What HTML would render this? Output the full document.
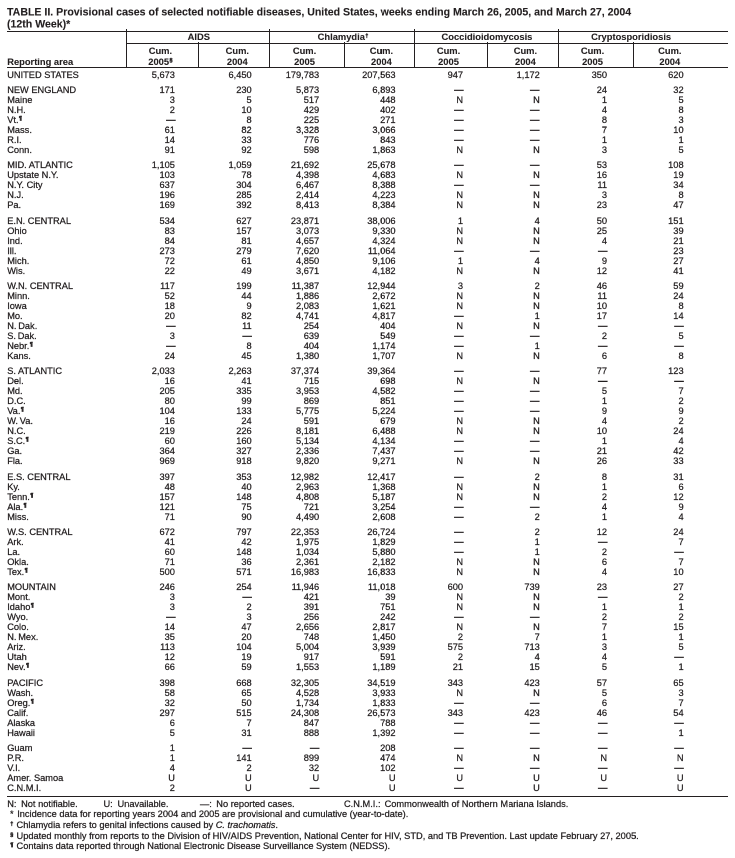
<!DOCTYPE html>
<html><head><meta charset="utf-8"><title>TABLE II</title>
<style>
html,body{margin:0;padding:0;background:#fff;}
body{width:735px;height:858px;position:relative;overflow:hidden;}
#w{position:absolute;left:0;top:0;width:1470px;height:1716px;transform:scale(0.5);transform-origin:0 0;will-change:transform;
 color:#231f20;-webkit-text-stroke:0.5px #231f20;
 font-family:"Liberation Sans",sans-serif;font-size:18.52px;line-height:20px;}
.t{position:absolute;white-space:pre;}
.r{text-align:right;}
.c{text-align:center;}
.b{font-weight:bold;font-size:18.7px;-webkit-text-stroke:0.2px #231f20;}
.title{font-size:21.16px;font-weight:bold;line-height:24px;-webkit-text-stroke:0.2px #231f20;}
.hl{position:absolute;background:#231f20;height:2px;}
.vl{position:absolute;background:#231f20;width:2px;}
.sup{font-size:11px;font-weight:bold;position:relative;top:-6px;line-height:0;-webkit-text-stroke:0.9px #231f20;margin-left:0.8px;}
.d{-webkit-text-stroke:0.9px #231f20;}
.dag{font-size:10.4px;top:-5.2px;}
.fsup{font-size:11px;font-weight:bold;position:relative;top:-5px;line-height:0;-webkit-text-stroke:0.9px #231f20;}
i{font-style:italic;}
</style></head><body><div id="w">

<div class="t title" style="left:14px;top:12px">TABLE II. Provisional cases of selected notifiable diseases, United States, weeks ending March 26, 2005, and March 27, 2004</div>
<div class="t title" style="left:14px;top:36px">(12th Week)*</div>
<div class="hl" style="left:14px;top:62px;width:1442px"></div>
<div class="hl" style="left:252px;top:86px;width:1204px"></div>
<div class="hl" style="left:14px;top:134px;width:1442px"></div>
<div class="hl" style="left:14px;top:1592px;width:1442px"></div>
<div class="vl" style="left:252px;top:58px;height:78px"></div>
<div class="vl" style="left:538px;top:58px;height:78px"></div>
<div class="vl" style="left:828px;top:58px;height:78px"></div>
<div class="vl" style="left:1116px;top:58px;height:78px"></div>
<div class="vl" style="left:396px;top:84px;height:52px"></div>
<div class="vl" style="left:688px;top:84px;height:52px"></div>
<div class="vl" style="left:974px;top:84px;height:52px"></div>
<div class="vl" style="left:1266px;top:84px;height:52px"></div>
<div class="t c b" style="left:277.7px;width:240px;top:64px">AIDS</div>
<div class="t c b" style="left:565.9px;width:240px;top:64px">Chlamydia<span class="sup dag">†</span></div>
<div class="t c b" style="left:853.9px;width:240px;top:64px">Coccidioidomycosis</div>
<div class="t c b" style="left:1142.3px;width:240px;top:64px">Cryptosporidiosis</div>
<div class="t c b" style="left:200.8px;width:240px;top:92px">Cum.</div>
<div class="t c b" style="left:200.8px;width:240px;top:114px">2005<span class="sup">§</span></div>
<div class="t c b" style="left:354.6px;width:240px;top:92px">Cum.</div>
<div class="t c b" style="left:354.6px;width:240px;top:114px">2004</div>
<div class="t c b" style="left:489px;width:240px;top:92px">Cum.</div>
<div class="t c b" style="left:489px;width:240px;top:114px">2005</div>
<div class="t c b" style="left:642.8px;width:240px;top:92px">Cum.</div>
<div class="t c b" style="left:642.8px;width:240px;top:114px">2004</div>
<div class="t c b" style="left:777px;width:240px;top:92px">Cum.</div>
<div class="t c b" style="left:777px;width:240px;top:114px">2005</div>
<div class="t c b" style="left:930.8px;width:240px;top:92px">Cum.</div>
<div class="t c b" style="left:930.8px;width:240px;top:114px">2004</div>
<div class="t c b" style="left:1065px;width:240px;top:92px">Cum.</div>
<div class="t c b" style="left:1065px;width:240px;top:114px">2005</div>
<div class="t c b" style="left:1219.6px;width:240px;top:92px">Cum.</div>
<div class="t c b" style="left:1219.6px;width:240px;top:114px">2004</div>
<div class="t b" style="left:14.4px;top:114px">Reporting area</div>
<div class="t " style="left:14.4px;top:140px">UNITED STATES</div>
<div class="t r " style="left:189.9px;width:160px;top:140px">5,673</div>
<div class="t r " style="left:343.4px;width:160px;top:140px">6,450</div>
<div class="t r " style="left:478.4px;width:160px;top:140px">179,783</div>
<div class="t r " style="left:631.1px;width:160px;top:140px">207,563</div>
<div class="t r " style="left:766.1px;width:160px;top:140px">947</div>
<div class="t r " style="left:919.6px;width:160px;top:140px">1,172</div>
<div class="t r " style="left:1054.1px;width:160px;top:140px">350</div>
<div class="t r " style="left:1207.2px;width:160px;top:140px">620</div>
<div class="t " style="left:14.4px;top:170px">NEW ENGLAND</div>
<div class="t r " style="left:189.9px;width:160px;top:170px">171</div>
<div class="t r " style="left:343.4px;width:160px;top:170px">230</div>
<div class="t r " style="left:478.4px;width:160px;top:170px">5,873</div>
<div class="t r " style="left:631.1px;width:160px;top:170px">6,893</div>
<div class="t r d" style="left:767px;width:160px;top:169px">—</div>
<div class="t r d" style="left:918.8px;width:160px;top:169px">—</div>
<div class="t r " style="left:1054.1px;width:160px;top:170px">24</div>
<div class="t r " style="left:1207.2px;width:160px;top:170px">32</div>
<div class="t " style="left:14.4px;top:190px">Maine</div>
<div class="t r " style="left:189.9px;width:160px;top:190px">3</div>
<div class="t r " style="left:343.4px;width:160px;top:190px">5</div>
<div class="t r " style="left:478.4px;width:160px;top:190px">517</div>
<div class="t r " style="left:631.1px;width:160px;top:190px">448</div>
<div class="t r " style="left:766.1px;width:160px;top:190px">N</div>
<div class="t r " style="left:919.6px;width:160px;top:190px">N</div>
<div class="t r " style="left:1054.1px;width:160px;top:190px">1</div>
<div class="t r " style="left:1207.2px;width:160px;top:190px">5</div>
<div class="t " style="left:14.4px;top:210px">N.H.</div>
<div class="t r " style="left:189.9px;width:160px;top:210px">2</div>
<div class="t r " style="left:343.4px;width:160px;top:210px">10</div>
<div class="t r " style="left:478.4px;width:160px;top:210px">429</div>
<div class="t r " style="left:631.1px;width:160px;top:210px">402</div>
<div class="t r d" style="left:767px;width:160px;top:209px">—</div>
<div class="t r d" style="left:918.8px;width:160px;top:209px">—</div>
<div class="t r " style="left:1054.1px;width:160px;top:210px">4</div>
<div class="t r " style="left:1207.2px;width:160px;top:210px">8</div>
<div class="t " style="left:14.4px;top:230px">Vt.<span class="sup">¶</span></div>
<div class="t r d" style="left:190.9px;width:160px;top:229px">—</div>
<div class="t r " style="left:343.4px;width:160px;top:230px">8</div>
<div class="t r " style="left:478.4px;width:160px;top:230px">225</div>
<div class="t r " style="left:631.1px;width:160px;top:230px">271</div>
<div class="t r d" style="left:767px;width:160px;top:229px">—</div>
<div class="t r d" style="left:918.8px;width:160px;top:229px">—</div>
<div class="t r " style="left:1054.1px;width:160px;top:230px">8</div>
<div class="t r " style="left:1207.2px;width:160px;top:230px">3</div>
<div class="t " style="left:14.4px;top:250px">Mass.</div>
<div class="t r " style="left:189.9px;width:160px;top:250px">61</div>
<div class="t r " style="left:343.4px;width:160px;top:250px">82</div>
<div class="t r " style="left:478.4px;width:160px;top:250px">3,328</div>
<div class="t r " style="left:631.1px;width:160px;top:250px">3,066</div>
<div class="t r d" style="left:767px;width:160px;top:249px">—</div>
<div class="t r d" style="left:918.8px;width:160px;top:249px">—</div>
<div class="t r " style="left:1054.1px;width:160px;top:250px">7</div>
<div class="t r " style="left:1207.2px;width:160px;top:250px">10</div>
<div class="t " style="left:14.4px;top:270px">R.I.</div>
<div class="t r " style="left:189.9px;width:160px;top:270px">14</div>
<div class="t r " style="left:343.4px;width:160px;top:270px">33</div>
<div class="t r " style="left:478.4px;width:160px;top:270px">776</div>
<div class="t r " style="left:631.1px;width:160px;top:270px">843</div>
<div class="t r d" style="left:767px;width:160px;top:269px">—</div>
<div class="t r d" style="left:918.8px;width:160px;top:269px">—</div>
<div class="t r " style="left:1054.1px;width:160px;top:270px">1</div>
<div class="t r " style="left:1207.2px;width:160px;top:270px">1</div>
<div class="t " style="left:14.4px;top:290px">Conn.</div>
<div class="t r " style="left:189.9px;width:160px;top:290px">91</div>
<div class="t r " style="left:343.4px;width:160px;top:290px">92</div>
<div class="t r " style="left:478.4px;width:160px;top:290px">598</div>
<div class="t r " style="left:631.1px;width:160px;top:290px">1,863</div>
<div class="t r " style="left:766.1px;width:160px;top:290px">N</div>
<div class="t r " style="left:919.6px;width:160px;top:290px">N</div>
<div class="t r " style="left:1054.1px;width:160px;top:290px">3</div>
<div class="t r " style="left:1207.2px;width:160px;top:290px">5</div>
<div class="t " style="left:14.4px;top:320px">MID. ATLANTIC</div>
<div class="t r " style="left:189.9px;width:160px;top:320px">1,105</div>
<div class="t r " style="left:343.4px;width:160px;top:320px">1,059</div>
<div class="t r " style="left:478.4px;width:160px;top:320px">21,692</div>
<div class="t r " style="left:631.1px;width:160px;top:320px">25,678</div>
<div class="t r d" style="left:767px;width:160px;top:319px">—</div>
<div class="t r d" style="left:918.8px;width:160px;top:319px">—</div>
<div class="t r " style="left:1054.1px;width:160px;top:320px">53</div>
<div class="t r " style="left:1207.2px;width:160px;top:320px">108</div>
<div class="t " style="left:14.4px;top:340px">Upstate N.Y.</div>
<div class="t r " style="left:189.9px;width:160px;top:340px">103</div>
<div class="t r " style="left:343.4px;width:160px;top:340px">78</div>
<div class="t r " style="left:478.4px;width:160px;top:340px">4,398</div>
<div class="t r " style="left:631.1px;width:160px;top:340px">4,683</div>
<div class="t r " style="left:766.1px;width:160px;top:340px">N</div>
<div class="t r " style="left:919.6px;width:160px;top:340px">N</div>
<div class="t r " style="left:1054.1px;width:160px;top:340px">16</div>
<div class="t r " style="left:1207.2px;width:160px;top:340px">19</div>
<div class="t " style="left:14.4px;top:360px">N.Y. City</div>
<div class="t r " style="left:189.9px;width:160px;top:360px">637</div>
<div class="t r " style="left:343.4px;width:160px;top:360px">304</div>
<div class="t r " style="left:478.4px;width:160px;top:360px">6,467</div>
<div class="t r " style="left:631.1px;width:160px;top:360px">8,388</div>
<div class="t r d" style="left:767px;width:160px;top:359px">—</div>
<div class="t r d" style="left:918.8px;width:160px;top:359px">—</div>
<div class="t r " style="left:1054.1px;width:160px;top:360px">11</div>
<div class="t r " style="left:1207.2px;width:160px;top:360px">34</div>
<div class="t " style="left:14.4px;top:380px">N.J.</div>
<div class="t r " style="left:189.9px;width:160px;top:380px">196</div>
<div class="t r " style="left:343.4px;width:160px;top:380px">285</div>
<div class="t r " style="left:478.4px;width:160px;top:380px">2,414</div>
<div class="t r " style="left:631.1px;width:160px;top:380px">4,223</div>
<div class="t r " style="left:766.1px;width:160px;top:380px">N</div>
<div class="t r " style="left:919.6px;width:160px;top:380px">N</div>
<div class="t r " style="left:1054.1px;width:160px;top:380px">3</div>
<div class="t r " style="left:1207.2px;width:160px;top:380px">8</div>
<div class="t " style="left:14.4px;top:400px">Pa.</div>
<div class="t r " style="left:189.9px;width:160px;top:400px">169</div>
<div class="t r " style="left:343.4px;width:160px;top:400px">392</div>
<div class="t r " style="left:478.4px;width:160px;top:400px">8,413</div>
<div class="t r " style="left:631.1px;width:160px;top:400px">8,384</div>
<div class="t r " style="left:766.1px;width:160px;top:400px">N</div>
<div class="t r " style="left:919.6px;width:160px;top:400px">N</div>
<div class="t r " style="left:1054.1px;width:160px;top:400px">23</div>
<div class="t r " style="left:1207.2px;width:160px;top:400px">47</div>
<div class="t " style="left:14.4px;top:432px">E.N. CENTRAL</div>
<div class="t r " style="left:189.9px;width:160px;top:432px">534</div>
<div class="t r " style="left:343.4px;width:160px;top:432px">627</div>
<div class="t r " style="left:478.4px;width:160px;top:432px">23,871</div>
<div class="t r " style="left:631.1px;width:160px;top:432px">38,006</div>
<div class="t r " style="left:766.1px;width:160px;top:432px">1</div>
<div class="t r " style="left:919.6px;width:160px;top:432px">4</div>
<div class="t r " style="left:1054.1px;width:160px;top:432px">50</div>
<div class="t r " style="left:1207.2px;width:160px;top:432px">151</div>
<div class="t " style="left:14.4px;top:452px">Ohio</div>
<div class="t r " style="left:189.9px;width:160px;top:452px">83</div>
<div class="t r " style="left:343.4px;width:160px;top:452px">157</div>
<div class="t r " style="left:478.4px;width:160px;top:452px">3,073</div>
<div class="t r " style="left:631.1px;width:160px;top:452px">9,330</div>
<div class="t r " style="left:766.1px;width:160px;top:452px">N</div>
<div class="t r " style="left:919.6px;width:160px;top:452px">N</div>
<div class="t r " style="left:1054.1px;width:160px;top:452px">25</div>
<div class="t r " style="left:1207.2px;width:160px;top:452px">39</div>
<div class="t " style="left:14.4px;top:472px">Ind.</div>
<div class="t r " style="left:189.9px;width:160px;top:472px">84</div>
<div class="t r " style="left:343.4px;width:160px;top:472px">81</div>
<div class="t r " style="left:478.4px;width:160px;top:472px">4,657</div>
<div class="t r " style="left:631.1px;width:160px;top:472px">4,324</div>
<div class="t r " style="left:766.1px;width:160px;top:472px">N</div>
<div class="t r " style="left:919.6px;width:160px;top:472px">N</div>
<div class="t r " style="left:1054.1px;width:160px;top:472px">4</div>
<div class="t r " style="left:1207.2px;width:160px;top:472px">21</div>
<div class="t " style="left:14.4px;top:492px">Ill.</div>
<div class="t r " style="left:189.9px;width:160px;top:492px">273</div>
<div class="t r " style="left:343.4px;width:160px;top:492px">279</div>
<div class="t r " style="left:478.4px;width:160px;top:492px">7,620</div>
<div class="t r " style="left:631.1px;width:160px;top:492px">11,064</div>
<div class="t r d" style="left:767px;width:160px;top:491px">—</div>
<div class="t r d" style="left:918.8px;width:160px;top:491px">—</div>
<div class="t r d" style="left:1054.7px;width:160px;top:491px">—</div>
<div class="t r " style="left:1207.2px;width:160px;top:492px">23</div>
<div class="t " style="left:14.4px;top:512px">Mich.</div>
<div class="t r " style="left:189.9px;width:160px;top:512px">72</div>
<div class="t r " style="left:343.4px;width:160px;top:512px">61</div>
<div class="t r " style="left:478.4px;width:160px;top:512px">4,850</div>
<div class="t r " style="left:631.1px;width:160px;top:512px">9,106</div>
<div class="t r " style="left:766.1px;width:160px;top:512px">1</div>
<div class="t r " style="left:919.6px;width:160px;top:512px">4</div>
<div class="t r " style="left:1054.1px;width:160px;top:512px">9</div>
<div class="t r " style="left:1207.2px;width:160px;top:512px">27</div>
<div class="t " style="left:14.4px;top:532px">Wis.</div>
<div class="t r " style="left:189.9px;width:160px;top:532px">22</div>
<div class="t r " style="left:343.4px;width:160px;top:532px">49</div>
<div class="t r " style="left:478.4px;width:160px;top:532px">3,671</div>
<div class="t r " style="left:631.1px;width:160px;top:532px">4,182</div>
<div class="t r " style="left:766.1px;width:160px;top:532px">N</div>
<div class="t r " style="left:919.6px;width:160px;top:532px">N</div>
<div class="t r " style="left:1054.1px;width:160px;top:532px">12</div>
<div class="t r " style="left:1207.2px;width:160px;top:532px">41</div>
<div class="t " style="left:14.4px;top:562px">W.N. CENTRAL</div>
<div class="t r " style="left:189.9px;width:160px;top:562px">117</div>
<div class="t r " style="left:343.4px;width:160px;top:562px">199</div>
<div class="t r " style="left:478.4px;width:160px;top:562px">11,387</div>
<div class="t r " style="left:631.1px;width:160px;top:562px">12,944</div>
<div class="t r " style="left:766.1px;width:160px;top:562px">3</div>
<div class="t r " style="left:919.6px;width:160px;top:562px">2</div>
<div class="t r " style="left:1054.1px;width:160px;top:562px">46</div>
<div class="t r " style="left:1207.2px;width:160px;top:562px">59</div>
<div class="t " style="left:14.4px;top:582px">Minn.</div>
<div class="t r " style="left:189.9px;width:160px;top:582px">52</div>
<div class="t r " style="left:343.4px;width:160px;top:582px">44</div>
<div class="t r " style="left:478.4px;width:160px;top:582px">1,886</div>
<div class="t r " style="left:631.1px;width:160px;top:582px">2,672</div>
<div class="t r " style="left:766.1px;width:160px;top:582px">N</div>
<div class="t r " style="left:919.6px;width:160px;top:582px">N</div>
<div class="t r " style="left:1054.1px;width:160px;top:582px">11</div>
<div class="t r " style="left:1207.2px;width:160px;top:582px">24</div>
<div class="t " style="left:14.4px;top:602px">Iowa</div>
<div class="t r " style="left:189.9px;width:160px;top:602px">18</div>
<div class="t r " style="left:343.4px;width:160px;top:602px">9</div>
<div class="t r " style="left:478.4px;width:160px;top:602px">2,083</div>
<div class="t r " style="left:631.1px;width:160px;top:602px">1,621</div>
<div class="t r " style="left:766.1px;width:160px;top:602px">N</div>
<div class="t r " style="left:919.6px;width:160px;top:602px">N</div>
<div class="t r " style="left:1054.1px;width:160px;top:602px">10</div>
<div class="t r " style="left:1207.2px;width:160px;top:602px">8</div>
<div class="t " style="left:14.4px;top:622px">Mo.</div>
<div class="t r " style="left:189.9px;width:160px;top:622px">20</div>
<div class="t r " style="left:343.4px;width:160px;top:622px">82</div>
<div class="t r " style="left:478.4px;width:160px;top:622px">4,741</div>
<div class="t r " style="left:631.1px;width:160px;top:622px">4,817</div>
<div class="t r d" style="left:767px;width:160px;top:621px">—</div>
<div class="t r " style="left:919.6px;width:160px;top:622px">1</div>
<div class="t r " style="left:1054.1px;width:160px;top:622px">17</div>
<div class="t r " style="left:1207.2px;width:160px;top:622px">14</div>
<div class="t " style="left:14.4px;top:642px"><span style="word-spacing:-1.6px">N. Dak.</span></div>
<div class="t r d" style="left:190.9px;width:160px;top:641px">—</div>
<div class="t r " style="left:343.4px;width:160px;top:642px">11</div>
<div class="t r " style="left:478.4px;width:160px;top:642px">254</div>
<div class="t r " style="left:631.1px;width:160px;top:642px">404</div>
<div class="t r " style="left:766.1px;width:160px;top:642px">N</div>
<div class="t r " style="left:919.6px;width:160px;top:642px">N</div>
<div class="t r d" style="left:1054.7px;width:160px;top:641px">—</div>
<div class="t r d" style="left:1207.2px;width:160px;top:641px">—</div>
<div class="t " style="left:14.4px;top:662px"><span style="word-spacing:-1.6px">S. Dak.</span></div>
<div class="t r " style="left:189.9px;width:160px;top:662px">3</div>
<div class="t r d" style="left:343.4px;width:160px;top:661px">—</div>
<div class="t r " style="left:478.4px;width:160px;top:662px">639</div>
<div class="t r " style="left:631.1px;width:160px;top:662px">549</div>
<div class="t r d" style="left:767px;width:160px;top:661px">—</div>
<div class="t r d" style="left:918.8px;width:160px;top:661px">—</div>
<div class="t r " style="left:1054.1px;width:160px;top:662px">2</div>
<div class="t r " style="left:1207.2px;width:160px;top:662px">5</div>
<div class="t " style="left:14.4px;top:682px">Nebr.<span class="sup">¶</span></div>
<div class="t r d" style="left:190.9px;width:160px;top:681px">—</div>
<div class="t r " style="left:343.4px;width:160px;top:682px">8</div>
<div class="t r " style="left:478.4px;width:160px;top:682px">404</div>
<div class="t r " style="left:631.1px;width:160px;top:682px">1,174</div>
<div class="t r d" style="left:767px;width:160px;top:681px">—</div>
<div class="t r " style="left:919.6px;width:160px;top:682px">1</div>
<div class="t r d" style="left:1054.7px;width:160px;top:681px">—</div>
<div class="t r d" style="left:1207.2px;width:160px;top:681px">—</div>
<div class="t " style="left:14.4px;top:702px">Kans.</div>
<div class="t r " style="left:189.9px;width:160px;top:702px">24</div>
<div class="t r " style="left:343.4px;width:160px;top:702px">45</div>
<div class="t r " style="left:478.4px;width:160px;top:702px">1,380</div>
<div class="t r " style="left:631.1px;width:160px;top:702px">1,707</div>
<div class="t r " style="left:766.1px;width:160px;top:702px">N</div>
<div class="t r " style="left:919.6px;width:160px;top:702px">N</div>
<div class="t r " style="left:1054.1px;width:160px;top:702px">6</div>
<div class="t r " style="left:1207.2px;width:160px;top:702px">8</div>
<div class="t " style="left:14.4px;top:732px">S. ATLANTIC</div>
<div class="t r " style="left:189.9px;width:160px;top:732px">2,033</div>
<div class="t r " style="left:343.4px;width:160px;top:732px">2,263</div>
<div class="t r " style="left:478.4px;width:160px;top:732px">37,374</div>
<div class="t r " style="left:631.1px;width:160px;top:732px">39,364</div>
<div class="t r d" style="left:767px;width:160px;top:731px">—</div>
<div class="t r d" style="left:918.8px;width:160px;top:731px">—</div>
<div class="t r " style="left:1054.1px;width:160px;top:732px">77</div>
<div class="t r " style="left:1207.2px;width:160px;top:732px">123</div>
<div class="t " style="left:14.4px;top:752px">Del.</div>
<div class="t r " style="left:189.9px;width:160px;top:752px">16</div>
<div class="t r " style="left:343.4px;width:160px;top:752px">41</div>
<div class="t r " style="left:478.4px;width:160px;top:752px">715</div>
<div class="t r " style="left:631.1px;width:160px;top:752px">698</div>
<div class="t r " style="left:766.1px;width:160px;top:752px">N</div>
<div class="t r " style="left:919.6px;width:160px;top:752px">N</div>
<div class="t r d" style="left:1054.7px;width:160px;top:751px">—</div>
<div class="t r d" style="left:1207.2px;width:160px;top:751px">—</div>
<div class="t " style="left:14.4px;top:772px">Md.</div>
<div class="t r " style="left:189.9px;width:160px;top:772px">205</div>
<div class="t r " style="left:343.4px;width:160px;top:772px">335</div>
<div class="t r " style="left:478.4px;width:160px;top:772px">3,953</div>
<div class="t r " style="left:631.1px;width:160px;top:772px">4,582</div>
<div class="t r d" style="left:767px;width:160px;top:771px">—</div>
<div class="t r d" style="left:918.8px;width:160px;top:771px">—</div>
<div class="t r " style="left:1054.1px;width:160px;top:772px">5</div>
<div class="t r " style="left:1207.2px;width:160px;top:772px">7</div>
<div class="t " style="left:14.4px;top:792px">D.C.</div>
<div class="t r " style="left:189.9px;width:160px;top:792px">80</div>
<div class="t r " style="left:343.4px;width:160px;top:792px">99</div>
<div class="t r " style="left:478.4px;width:160px;top:792px">869</div>
<div class="t r " style="left:631.1px;width:160px;top:792px">851</div>
<div class="t r d" style="left:767px;width:160px;top:791px">—</div>
<div class="t r d" style="left:918.8px;width:160px;top:791px">—</div>
<div class="t r " style="left:1054.1px;width:160px;top:792px">1</div>
<div class="t r " style="left:1207.2px;width:160px;top:792px">2</div>
<div class="t " style="left:14.4px;top:812px">Va.<span class="sup">¶</span></div>
<div class="t r " style="left:189.9px;width:160px;top:812px">104</div>
<div class="t r " style="left:343.4px;width:160px;top:812px">133</div>
<div class="t r " style="left:478.4px;width:160px;top:812px">5,775</div>
<div class="t r " style="left:631.1px;width:160px;top:812px">5,224</div>
<div class="t r d" style="left:767px;width:160px;top:811px">—</div>
<div class="t r d" style="left:918.8px;width:160px;top:811px">—</div>
<div class="t r " style="left:1054.1px;width:160px;top:812px">9</div>
<div class="t r " style="left:1207.2px;width:160px;top:812px">9</div>
<div class="t " style="left:14.4px;top:832px"><span style="word-spacing:-1.6px">W. Va.</span></div>
<div class="t r " style="left:189.9px;width:160px;top:832px">16</div>
<div class="t r " style="left:343.4px;width:160px;top:832px">24</div>
<div class="t r " style="left:478.4px;width:160px;top:832px">591</div>
<div class="t r " style="left:631.1px;width:160px;top:832px">679</div>
<div class="t r " style="left:766.1px;width:160px;top:832px">N</div>
<div class="t r " style="left:919.6px;width:160px;top:832px">N</div>
<div class="t r " style="left:1054.1px;width:160px;top:832px">4</div>
<div class="t r " style="left:1207.2px;width:160px;top:832px">2</div>
<div class="t " style="left:14.4px;top:852px">N.C.</div>
<div class="t r " style="left:189.9px;width:160px;top:852px">219</div>
<div class="t r " style="left:343.4px;width:160px;top:852px">226</div>
<div class="t r " style="left:478.4px;width:160px;top:852px">8,181</div>
<div class="t r " style="left:631.1px;width:160px;top:852px">6,488</div>
<div class="t r " style="left:766.1px;width:160px;top:852px">N</div>
<div class="t r " style="left:919.6px;width:160px;top:852px">N</div>
<div class="t r " style="left:1054.1px;width:160px;top:852px">10</div>
<div class="t r " style="left:1207.2px;width:160px;top:852px">24</div>
<div class="t " style="left:14.4px;top:872px">S.C.<span class="sup">¶</span></div>
<div class="t r " style="left:189.9px;width:160px;top:872px">60</div>
<div class="t r " style="left:343.4px;width:160px;top:872px">160</div>
<div class="t r " style="left:478.4px;width:160px;top:872px">5,134</div>
<div class="t r " style="left:631.1px;width:160px;top:872px">4,134</div>
<div class="t r d" style="left:767px;width:160px;top:871px">—</div>
<div class="t r d" style="left:918.8px;width:160px;top:871px">—</div>
<div class="t r " style="left:1054.1px;width:160px;top:872px">1</div>
<div class="t r " style="left:1207.2px;width:160px;top:872px">4</div>
<div class="t " style="left:14.4px;top:892px">Ga.</div>
<div class="t r " style="left:189.9px;width:160px;top:892px">364</div>
<div class="t r " style="left:343.4px;width:160px;top:892px">327</div>
<div class="t r " style="left:478.4px;width:160px;top:892px">2,336</div>
<div class="t r " style="left:631.1px;width:160px;top:892px">7,437</div>
<div class="t r d" style="left:767px;width:160px;top:891px">—</div>
<div class="t r d" style="left:918.8px;width:160px;top:891px">—</div>
<div class="t r " style="left:1054.1px;width:160px;top:892px">21</div>
<div class="t r " style="left:1207.2px;width:160px;top:892px">42</div>
<div class="t " style="left:14.4px;top:912px">Fla.</div>
<div class="t r " style="left:189.9px;width:160px;top:912px">969</div>
<div class="t r " style="left:343.4px;width:160px;top:912px">918</div>
<div class="t r " style="left:478.4px;width:160px;top:912px">9,820</div>
<div class="t r " style="left:631.1px;width:160px;top:912px">9,271</div>
<div class="t r " style="left:766.1px;width:160px;top:912px">N</div>
<div class="t r " style="left:919.6px;width:160px;top:912px">N</div>
<div class="t r " style="left:1054.1px;width:160px;top:912px">26</div>
<div class="t r " style="left:1207.2px;width:160px;top:912px">33</div>
<div class="t " style="left:14.4px;top:944px">E.S. CENTRAL</div>
<div class="t r " style="left:189.9px;width:160px;top:944px">397</div>
<div class="t r " style="left:343.4px;width:160px;top:944px">353</div>
<div class="t r " style="left:478.4px;width:160px;top:944px">12,982</div>
<div class="t r " style="left:631.1px;width:160px;top:944px">12,417</div>
<div class="t r d" style="left:767px;width:160px;top:943px">—</div>
<div class="t r " style="left:919.6px;width:160px;top:944px">2</div>
<div class="t r " style="left:1054.1px;width:160px;top:944px">8</div>
<div class="t r " style="left:1207.2px;width:160px;top:944px">31</div>
<div class="t " style="left:14.4px;top:964px">Ky.</div>
<div class="t r " style="left:189.9px;width:160px;top:964px">48</div>
<div class="t r " style="left:343.4px;width:160px;top:964px">40</div>
<div class="t r " style="left:478.4px;width:160px;top:964px">2,963</div>
<div class="t r " style="left:631.1px;width:160px;top:964px">1,368</div>
<div class="t r " style="left:766.1px;width:160px;top:964px">N</div>
<div class="t r " style="left:919.6px;width:160px;top:964px">N</div>
<div class="t r " style="left:1054.1px;width:160px;top:964px">1</div>
<div class="t r " style="left:1207.2px;width:160px;top:964px">6</div>
<div class="t " style="left:14.4px;top:984px">Tenn.<span class="sup">¶</span></div>
<div class="t r " style="left:189.9px;width:160px;top:984px">157</div>
<div class="t r " style="left:343.4px;width:160px;top:984px">148</div>
<div class="t r " style="left:478.4px;width:160px;top:984px">4,808</div>
<div class="t r " style="left:631.1px;width:160px;top:984px">5,187</div>
<div class="t r " style="left:766.1px;width:160px;top:984px">N</div>
<div class="t r " style="left:919.6px;width:160px;top:984px">N</div>
<div class="t r " style="left:1054.1px;width:160px;top:984px">2</div>
<div class="t r " style="left:1207.2px;width:160px;top:984px">12</div>
<div class="t " style="left:14.4px;top:1004px">Ala.<span class="sup">¶</span></div>
<div class="t r " style="left:189.9px;width:160px;top:1004px">121</div>
<div class="t r " style="left:343.4px;width:160px;top:1004px">75</div>
<div class="t r " style="left:478.4px;width:160px;top:1004px">721</div>
<div class="t r " style="left:631.1px;width:160px;top:1004px">3,254</div>
<div class="t r d" style="left:767px;width:160px;top:1003px">—</div>
<div class="t r d" style="left:918.8px;width:160px;top:1003px">—</div>
<div class="t r " style="left:1054.1px;width:160px;top:1004px">4</div>
<div class="t r " style="left:1207.2px;width:160px;top:1004px">9</div>
<div class="t " style="left:14.4px;top:1024px">Miss.</div>
<div class="t r " style="left:189.9px;width:160px;top:1024px">71</div>
<div class="t r " style="left:343.4px;width:160px;top:1024px">90</div>
<div class="t r " style="left:478.4px;width:160px;top:1024px">4,490</div>
<div class="t r " style="left:631.1px;width:160px;top:1024px">2,608</div>
<div class="t r d" style="left:767px;width:160px;top:1023px">—</div>
<div class="t r " style="left:919.6px;width:160px;top:1024px">2</div>
<div class="t r " style="left:1054.1px;width:160px;top:1024px">1</div>
<div class="t r " style="left:1207.2px;width:160px;top:1024px">4</div>
<div class="t " style="left:14.4px;top:1054px">W.S. CENTRAL</div>
<div class="t r " style="left:189.9px;width:160px;top:1054px">672</div>
<div class="t r " style="left:343.4px;width:160px;top:1054px">797</div>
<div class="t r " style="left:478.4px;width:160px;top:1054px">22,353</div>
<div class="t r " style="left:631.1px;width:160px;top:1054px">26,724</div>
<div class="t r d" style="left:767px;width:160px;top:1053px">—</div>
<div class="t r " style="left:919.6px;width:160px;top:1054px">2</div>
<div class="t r " style="left:1054.1px;width:160px;top:1054px">12</div>
<div class="t r " style="left:1207.2px;width:160px;top:1054px">24</div>
<div class="t " style="left:14.4px;top:1074px">Ark.</div>
<div class="t r " style="left:189.9px;width:160px;top:1074px">41</div>
<div class="t r " style="left:343.4px;width:160px;top:1074px">42</div>
<div class="t r " style="left:478.4px;width:160px;top:1074px">1,975</div>
<div class="t r " style="left:631.1px;width:160px;top:1074px">1,829</div>
<div class="t r d" style="left:767px;width:160px;top:1073px">—</div>
<div class="t r " style="left:919.6px;width:160px;top:1074px">1</div>
<div class="t r d" style="left:1054.7px;width:160px;top:1073px">—</div>
<div class="t r " style="left:1207.2px;width:160px;top:1074px">7</div>
<div class="t " style="left:14.4px;top:1094px">La.</div>
<div class="t r " style="left:189.9px;width:160px;top:1094px">60</div>
<div class="t r " style="left:343.4px;width:160px;top:1094px">148</div>
<div class="t r " style="left:478.4px;width:160px;top:1094px">1,034</div>
<div class="t r " style="left:631.1px;width:160px;top:1094px">5,880</div>
<div class="t r d" style="left:767px;width:160px;top:1093px">—</div>
<div class="t r " style="left:919.6px;width:160px;top:1094px">1</div>
<div class="t r " style="left:1054.1px;width:160px;top:1094px">2</div>
<div class="t r d" style="left:1207.2px;width:160px;top:1093px">—</div>
<div class="t " style="left:14.4px;top:1114px">Okla.</div>
<div class="t r " style="left:189.9px;width:160px;top:1114px">71</div>
<div class="t r " style="left:343.4px;width:160px;top:1114px">36</div>
<div class="t r " style="left:478.4px;width:160px;top:1114px">2,361</div>
<div class="t r " style="left:631.1px;width:160px;top:1114px">2,182</div>
<div class="t r " style="left:766.1px;width:160px;top:1114px">N</div>
<div class="t r " style="left:919.6px;width:160px;top:1114px">N</div>
<div class="t r " style="left:1054.1px;width:160px;top:1114px">6</div>
<div class="t r " style="left:1207.2px;width:160px;top:1114px">7</div>
<div class="t " style="left:14.4px;top:1134px">Tex.<span class="sup">¶</span></div>
<div class="t r " style="left:189.9px;width:160px;top:1134px">500</div>
<div class="t r " style="left:343.4px;width:160px;top:1134px">571</div>
<div class="t r " style="left:478.4px;width:160px;top:1134px">16,983</div>
<div class="t r " style="left:631.1px;width:160px;top:1134px">16,833</div>
<div class="t r " style="left:766.1px;width:160px;top:1134px">N</div>
<div class="t r " style="left:919.6px;width:160px;top:1134px">N</div>
<div class="t r " style="left:1054.1px;width:160px;top:1134px">4</div>
<div class="t r " style="left:1207.2px;width:160px;top:1134px">10</div>
<div class="t " style="left:14.4px;top:1164px">MOUNTAIN</div>
<div class="t r " style="left:189.9px;width:160px;top:1164px">246</div>
<div class="t r " style="left:343.4px;width:160px;top:1164px">254</div>
<div class="t r " style="left:478.4px;width:160px;top:1164px">11,946</div>
<div class="t r " style="left:631.1px;width:160px;top:1164px">11,018</div>
<div class="t r " style="left:766.1px;width:160px;top:1164px">600</div>
<div class="t r " style="left:919.6px;width:160px;top:1164px">739</div>
<div class="t r " style="left:1054.1px;width:160px;top:1164px">23</div>
<div class="t r " style="left:1207.2px;width:160px;top:1164px">27</div>
<div class="t " style="left:14.4px;top:1184px">Mont.</div>
<div class="t r " style="left:189.9px;width:160px;top:1184px">3</div>
<div class="t r d" style="left:343.4px;width:160px;top:1183px">—</div>
<div class="t r " style="left:478.4px;width:160px;top:1184px">421</div>
<div class="t r " style="left:631.1px;width:160px;top:1184px">39</div>
<div class="t r " style="left:766.1px;width:160px;top:1184px">N</div>
<div class="t r " style="left:919.6px;width:160px;top:1184px">N</div>
<div class="t r d" style="left:1054.7px;width:160px;top:1183px">—</div>
<div class="t r " style="left:1207.2px;width:160px;top:1184px">2</div>
<div class="t " style="left:14.4px;top:1204px">Idaho<span class="sup">¶</span></div>
<div class="t r " style="left:189.9px;width:160px;top:1204px">3</div>
<div class="t r " style="left:343.4px;width:160px;top:1204px">2</div>
<div class="t r " style="left:478.4px;width:160px;top:1204px">391</div>
<div class="t r " style="left:631.1px;width:160px;top:1204px">751</div>
<div class="t r " style="left:766.1px;width:160px;top:1204px">N</div>
<div class="t r " style="left:919.6px;width:160px;top:1204px">N</div>
<div class="t r " style="left:1054.1px;width:160px;top:1204px">1</div>
<div class="t r " style="left:1207.2px;width:160px;top:1204px">1</div>
<div class="t " style="left:14.4px;top:1224px">Wyo.</div>
<div class="t r d" style="left:190.9px;width:160px;top:1223px">—</div>
<div class="t r " style="left:343.4px;width:160px;top:1224px">3</div>
<div class="t r " style="left:478.4px;width:160px;top:1224px">256</div>
<div class="t r " style="left:631.1px;width:160px;top:1224px">242</div>
<div class="t r d" style="left:767px;width:160px;top:1223px">—</div>
<div class="t r d" style="left:918.8px;width:160px;top:1223px">—</div>
<div class="t r " style="left:1054.1px;width:160px;top:1224px">2</div>
<div class="t r " style="left:1207.2px;width:160px;top:1224px">2</div>
<div class="t " style="left:14.4px;top:1244px">Colo.</div>
<div class="t r " style="left:189.9px;width:160px;top:1244px">14</div>
<div class="t r " style="left:343.4px;width:160px;top:1244px">47</div>
<div class="t r " style="left:478.4px;width:160px;top:1244px">2,656</div>
<div class="t r " style="left:631.1px;width:160px;top:1244px">2,817</div>
<div class="t r " style="left:766.1px;width:160px;top:1244px">N</div>
<div class="t r " style="left:919.6px;width:160px;top:1244px">N</div>
<div class="t r " style="left:1054.1px;width:160px;top:1244px">7</div>
<div class="t r " style="left:1207.2px;width:160px;top:1244px">15</div>
<div class="t " style="left:14.4px;top:1264px"><span style="word-spacing:-1.6px">N. Mex.</span></div>
<div class="t r " style="left:189.9px;width:160px;top:1264px">35</div>
<div class="t r " style="left:343.4px;width:160px;top:1264px">20</div>
<div class="t r " style="left:478.4px;width:160px;top:1264px">748</div>
<div class="t r " style="left:631.1px;width:160px;top:1264px">1,450</div>
<div class="t r " style="left:766.1px;width:160px;top:1264px">2</div>
<div class="t r " style="left:919.6px;width:160px;top:1264px">7</div>
<div class="t r " style="left:1054.1px;width:160px;top:1264px">1</div>
<div class="t r " style="left:1207.2px;width:160px;top:1264px">1</div>
<div class="t " style="left:14.4px;top:1284px">Ariz.</div>
<div class="t r " style="left:189.9px;width:160px;top:1284px">113</div>
<div class="t r " style="left:343.4px;width:160px;top:1284px">104</div>
<div class="t r " style="left:478.4px;width:160px;top:1284px">5,004</div>
<div class="t r " style="left:631.1px;width:160px;top:1284px">3,939</div>
<div class="t r " style="left:766.1px;width:160px;top:1284px">575</div>
<div class="t r " style="left:919.6px;width:160px;top:1284px">713</div>
<div class="t r " style="left:1054.1px;width:160px;top:1284px">3</div>
<div class="t r " style="left:1207.2px;width:160px;top:1284px">5</div>
<div class="t " style="left:14.4px;top:1304px">Utah</div>
<div class="t r " style="left:189.9px;width:160px;top:1304px">12</div>
<div class="t r " style="left:343.4px;width:160px;top:1304px">19</div>
<div class="t r " style="left:478.4px;width:160px;top:1304px">917</div>
<div class="t r " style="left:631.1px;width:160px;top:1304px">591</div>
<div class="t r " style="left:766.1px;width:160px;top:1304px">2</div>
<div class="t r " style="left:919.6px;width:160px;top:1304px">4</div>
<div class="t r " style="left:1054.1px;width:160px;top:1304px">4</div>
<div class="t r d" style="left:1207.2px;width:160px;top:1303px">—</div>
<div class="t " style="left:14.4px;top:1324px">Nev.<span class="sup">¶</span></div>
<div class="t r " style="left:189.9px;width:160px;top:1324px">66</div>
<div class="t r " style="left:343.4px;width:160px;top:1324px">59</div>
<div class="t r " style="left:478.4px;width:160px;top:1324px">1,553</div>
<div class="t r " style="left:631.1px;width:160px;top:1324px">1,189</div>
<div class="t r " style="left:766.1px;width:160px;top:1324px">21</div>
<div class="t r " style="left:919.6px;width:160px;top:1324px">15</div>
<div class="t r " style="left:1054.1px;width:160px;top:1324px">5</div>
<div class="t r " style="left:1207.2px;width:160px;top:1324px">1</div>
<div class="t " style="left:14.4px;top:1356px">PACIFIC</div>
<div class="t r " style="left:189.9px;width:160px;top:1356px">398</div>
<div class="t r " style="left:343.4px;width:160px;top:1356px">668</div>
<div class="t r " style="left:478.4px;width:160px;top:1356px">32,305</div>
<div class="t r " style="left:631.1px;width:160px;top:1356px">34,519</div>
<div class="t r " style="left:766.1px;width:160px;top:1356px">343</div>
<div class="t r " style="left:919.6px;width:160px;top:1356px">423</div>
<div class="t r " style="left:1054.1px;width:160px;top:1356px">57</div>
<div class="t r " style="left:1207.2px;width:160px;top:1356px">65</div>
<div class="t " style="left:14.4px;top:1376px">Wash.</div>
<div class="t r " style="left:189.9px;width:160px;top:1376px">58</div>
<div class="t r " style="left:343.4px;width:160px;top:1376px">65</div>
<div class="t r " style="left:478.4px;width:160px;top:1376px">4,528</div>
<div class="t r " style="left:631.1px;width:160px;top:1376px">3,933</div>
<div class="t r " style="left:766.1px;width:160px;top:1376px">N</div>
<div class="t r " style="left:919.6px;width:160px;top:1376px">N</div>
<div class="t r " style="left:1054.1px;width:160px;top:1376px">5</div>
<div class="t r " style="left:1207.2px;width:160px;top:1376px">3</div>
<div class="t " style="left:14.4px;top:1396px">Oreg.<span class="sup">¶</span></div>
<div class="t r " style="left:189.9px;width:160px;top:1396px">32</div>
<div class="t r " style="left:343.4px;width:160px;top:1396px">50</div>
<div class="t r " style="left:478.4px;width:160px;top:1396px">1,734</div>
<div class="t r " style="left:631.1px;width:160px;top:1396px">1,833</div>
<div class="t r d" style="left:767px;width:160px;top:1395px">—</div>
<div class="t r d" style="left:918.8px;width:160px;top:1395px">—</div>
<div class="t r " style="left:1054.1px;width:160px;top:1396px">6</div>
<div class="t r " style="left:1207.2px;width:160px;top:1396px">7</div>
<div class="t " style="left:14.4px;top:1416px">Calif.</div>
<div class="t r " style="left:189.9px;width:160px;top:1416px">297</div>
<div class="t r " style="left:343.4px;width:160px;top:1416px">515</div>
<div class="t r " style="left:478.4px;width:160px;top:1416px">24,308</div>
<div class="t r " style="left:631.1px;width:160px;top:1416px">26,573</div>
<div class="t r " style="left:766.1px;width:160px;top:1416px">343</div>
<div class="t r " style="left:919.6px;width:160px;top:1416px">423</div>
<div class="t r " style="left:1054.1px;width:160px;top:1416px">46</div>
<div class="t r " style="left:1207.2px;width:160px;top:1416px">54</div>
<div class="t " style="left:14.4px;top:1436px">Alaska</div>
<div class="t r " style="left:189.9px;width:160px;top:1436px">6</div>
<div class="t r " style="left:343.4px;width:160px;top:1436px">7</div>
<div class="t r " style="left:478.4px;width:160px;top:1436px">847</div>
<div class="t r " style="left:631.1px;width:160px;top:1436px">788</div>
<div class="t r d" style="left:767px;width:160px;top:1435px">—</div>
<div class="t r d" style="left:918.8px;width:160px;top:1435px">—</div>
<div class="t r d" style="left:1054.7px;width:160px;top:1435px">—</div>
<div class="t r d" style="left:1207.2px;width:160px;top:1435px">—</div>
<div class="t " style="left:14.4px;top:1456px">Hawaii</div>
<div class="t r " style="left:189.9px;width:160px;top:1456px">5</div>
<div class="t r " style="left:343.4px;width:160px;top:1456px">31</div>
<div class="t r " style="left:478.4px;width:160px;top:1456px">888</div>
<div class="t r " style="left:631.1px;width:160px;top:1456px">1,392</div>
<div class="t r d" style="left:767px;width:160px;top:1455px">—</div>
<div class="t r d" style="left:918.8px;width:160px;top:1455px">—</div>
<div class="t r d" style="left:1054.7px;width:160px;top:1455px">—</div>
<div class="t r " style="left:1207.2px;width:160px;top:1456px">1</div>
<div class="t " style="left:14.4px;top:1486px">Guam</div>
<div class="t r " style="left:189.9px;width:160px;top:1486px">1</div>
<div class="t r d" style="left:343.4px;width:160px;top:1485px">—</div>
<div class="t r d" style="left:478.4px;width:160px;top:1485px">—</div>
<div class="t r " style="left:631.1px;width:160px;top:1486px">208</div>
<div class="t r d" style="left:767px;width:160px;top:1485px">—</div>
<div class="t r d" style="left:918.8px;width:160px;top:1485px">—</div>
<div class="t r d" style="left:1054.7px;width:160px;top:1485px">—</div>
<div class="t r d" style="left:1207.2px;width:160px;top:1485px">—</div>
<div class="t " style="left:14.4px;top:1506px">P.R.</div>
<div class="t r " style="left:189.9px;width:160px;top:1506px">1</div>
<div class="t r " style="left:343.4px;width:160px;top:1506px">141</div>
<div class="t r " style="left:478.4px;width:160px;top:1506px">899</div>
<div class="t r " style="left:631.1px;width:160px;top:1506px">474</div>
<div class="t r " style="left:766.1px;width:160px;top:1506px">N</div>
<div class="t r " style="left:919.6px;width:160px;top:1506px">N</div>
<div class="t r " style="left:1054.1px;width:160px;top:1506px">N</div>
<div class="t r " style="left:1207.2px;width:160px;top:1506px">N</div>
<div class="t " style="left:14.4px;top:1526px">V.I.</div>
<div class="t r " style="left:189.9px;width:160px;top:1526px">4</div>
<div class="t r " style="left:343.4px;width:160px;top:1526px">2</div>
<div class="t r " style="left:478.4px;width:160px;top:1526px">32</div>
<div class="t r " style="left:631.1px;width:160px;top:1526px">102</div>
<div class="t r d" style="left:767px;width:160px;top:1525px">—</div>
<div class="t r d" style="left:918.8px;width:160px;top:1525px">—</div>
<div class="t r d" style="left:1054.7px;width:160px;top:1525px">—</div>
<div class="t r d" style="left:1207.2px;width:160px;top:1525px">—</div>
<div class="t " style="left:14.4px;top:1546px">Amer. Samoa</div>
<div class="t r " style="left:189.9px;width:160px;top:1546px">U</div>
<div class="t r " style="left:343.4px;width:160px;top:1546px">U</div>
<div class="t r " style="left:478.4px;width:160px;top:1546px">U</div>
<div class="t r " style="left:631.1px;width:160px;top:1546px">U</div>
<div class="t r " style="left:766.1px;width:160px;top:1546px">U</div>
<div class="t r " style="left:919.6px;width:160px;top:1546px">U</div>
<div class="t r " style="left:1054.1px;width:160px;top:1546px">U</div>
<div class="t r " style="left:1207.2px;width:160px;top:1546px">U</div>
<div class="t " style="left:14.4px;top:1566px">C.N.M.I.</div>
<div class="t r " style="left:189.9px;width:160px;top:1566px">2</div>
<div class="t r " style="left:343.4px;width:160px;top:1566px">U</div>
<div class="t r d" style="left:478.4px;width:160px;top:1565px">—</div>
<div class="t r " style="left:631.1px;width:160px;top:1566px">U</div>
<div class="t r d" style="left:767px;width:160px;top:1565px">—</div>
<div class="t r " style="left:919.6px;width:160px;top:1566px">U</div>
<div class="t r d" style="left:1054.7px;width:160px;top:1565px">—</div>
<div class="t r " style="left:1207.2px;width:160px;top:1566px">U</div>
<div class="t " style="left:14.4px;top:1598px">N:</div>
<div class="t " style="left:42.2px;top:1598px">Not notifiable.</div>
<div class="t " style="left:207px;top:1598px">U:</div>
<div class="t " style="left:235px;top:1598px">Unavailable.</div>
<div class="t " style="left:400px;top:1598px">—:</div>
<div class="t " style="left:432.6px;top:1598px">No reported cases.</div>
<div class="t " style="left:688px;top:1598px">C.N.M.I.:</div>
<div class="t " style="left:769.2px;top:1598px">Commonwealth of Northern Mariana Islands.</div>
<div class="t " style="left:20px;top:1618px">*</div>
<div class="t " style="left:34.4px;top:1618px">Incidence data for reporting years 2004 and 2005 are provisional and cumulative (year-to-date).</div>
<div class="t " style="left:20.6px;top:1640px"><span class="fsup">†</span></div>
<div class="t " style="left:33.1px;top:1640px">Chlamydia refers to genital infections caused by <i>C. trachomatis</i>.</div>
<div class="t " style="left:20.6px;top:1662px"><span class="fsup">§</span></div>
<div class="t " style="left:33.1px;top:1662px">Updated monthly from reports to the Division of HIV/AIDS Prevention, National Center for HIV, STD, and TB Prevention. Last update February 27, 2005.</div>
<div class="t " style="left:20.6px;top:1682px"><span class="fsup">¶</span></div>
<div class="t " style="left:33.1px;top:1682px">Contains data reported through National Electronic Disease Surveillance System (NEDSS).</div>
</div></body></html>
